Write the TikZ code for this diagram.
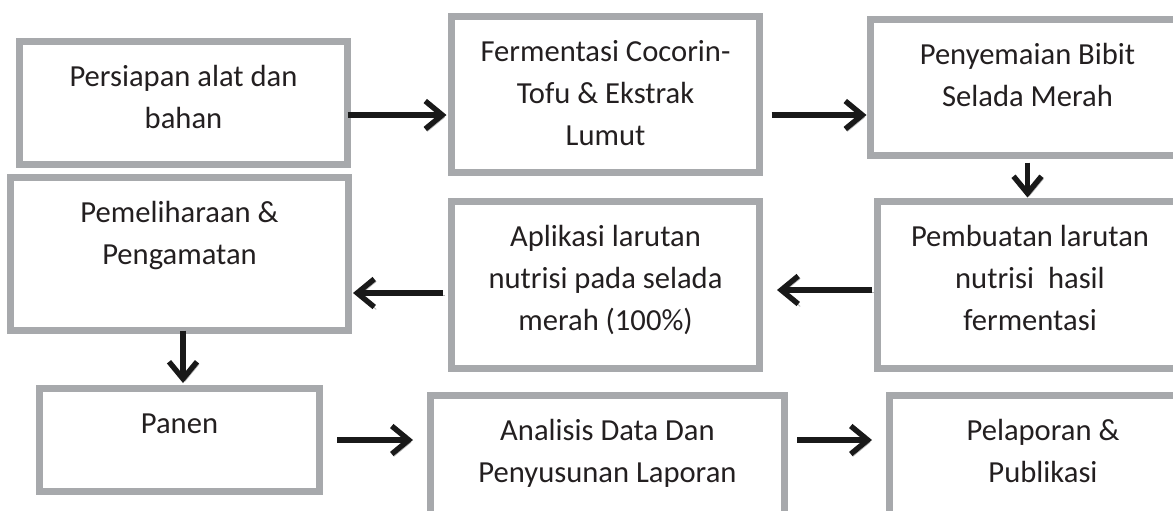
\documentclass[tikz,border=0pt]{standalone}
\usepackage{fontspec}
\setmainfont{Carlito}
\usetikzlibrary{arrows.meta}

\definecolor{boxgray}{RGB}{167,169,172}
\definecolor{textgray}{RGB}{35,31,32}
\definecolor{arrowblack}{RGB}{25,25,25}
\newcommand\flowfont{\fontsize{15.3pt}{21pt}\selectfont}

\tikzset{
  flowbox/.style={draw=boxgray, line width=3.5pt, anchor=north west,
    inner sep=0pt, outer sep=0pt, align=flush center, font=\flowfont,
    text=textgray, text height=22.25pt},
  flowarrow/.style={draw=arrowblack, line width=2.7pt,
    -{Straight Barb[length=8.5pt,width=14pt]},
    preaction={draw=black!30, transform canvas={xshift=1pt,yshift=-1.2pt}}}
}

\begin{document}
\begin{tikzpicture}[x=0.5pt, y=-0.5pt]
    \clip (0,0) rectangle (1173,510);

    % top row
    \node[flowbox, text width=164pt, text depth=39.25pt] (B1) at (19.5,41.5)
        {Persiapan alat dan\\bahan};
    \node[flowbox, text width=154pt, text depth=55.75pt] (B2) at (451.5,16.5)
        {Fermentasi Cocorin-\\Tofu \& Ekstrak\\Lumut};
    \node[flowbox, text width=157pt, text depth=45.75pt] (B3) at (870.5,19.5)
        {Penyemaian Bibit\\Selada Merah};

    % middle row
    \node[flowbox, text width=169pt, text depth=54.25pt] (B4) at (10.5,177.5)
        {Pemeliharaan \&\\Pengamatan};
    \node[flowbox, text width=154pt, text depth=61.25pt] (B5) at (451.5,201.5)
        {Aplikasi larutan\\nutrisi pada selada\\merah (100\%)};
    \node[flowbox, text width=152.5pt, text depth=61.25pt] (B6) at (877.5,201.5)
        {Pembuatan larutan\\nutrisi\ \ hasil\\fermentasi};

    % bottom row
    \node[flowbox, text width=140pt, text depth=29.25pt] (B7) at (39.5,388.5)
        {Panen};
    \node[flowbox, text width=177pt, text depth=42.5pt] (B8) at (430.5,395.5)
        {Analisis Data Dan\\Penyusunan Laporan};
    \node[flowbox, text width=153.5pt, text depth=42.5pt] (B9) at (889.5,395.5)
        {Pelaporan \&\\Publikasi};

    \draw[flowarrow, shorten >=2.5pt] ([yshift=-6pt]B1.east) -- ([yshift=-6pt]B1.east -| B2.west);
    \draw[flowarrow, shorten <=6pt, shorten >=2pt] ([yshift=-10.25pt]B2.east) -- ([yshift=-10.25pt]B2.east -| B3.west);
    \draw[flowarrow, shorten <=3.5pt, shorten >=2pt] (B3.south) -- (B3.south |- B6.north);
    \draw[flowarrow, shorten <=3pt, shorten >=8.75pt] ([yshift=-2.5pt]B6.west) -- ([yshift=-2.5pt]B6.west -| B5.east);
    \draw[flowarrow, shorten <=4.25pt, shorten >=2.25pt] ([yshift=-4pt]B5.west) -- ([yshift=-4pt]B5.west -| B4.east);
    \draw[flowarrow, shorten >=2.75pt] ([xshift=1.75pt]B4.south) -- ([xshift=1.75pt]B7.north);
    \draw[flowarrow, shorten <=8.75pt, shorten >=8.75pt] (B7.east) -- (B7.east -| B8.west);
    \draw[flowarrow, shorten <=6.25pt, shorten >=8.75pt] (B7.east -| B8.east) -- (B7.east -| B9.west);
\end{tikzpicture}
\end{document}
